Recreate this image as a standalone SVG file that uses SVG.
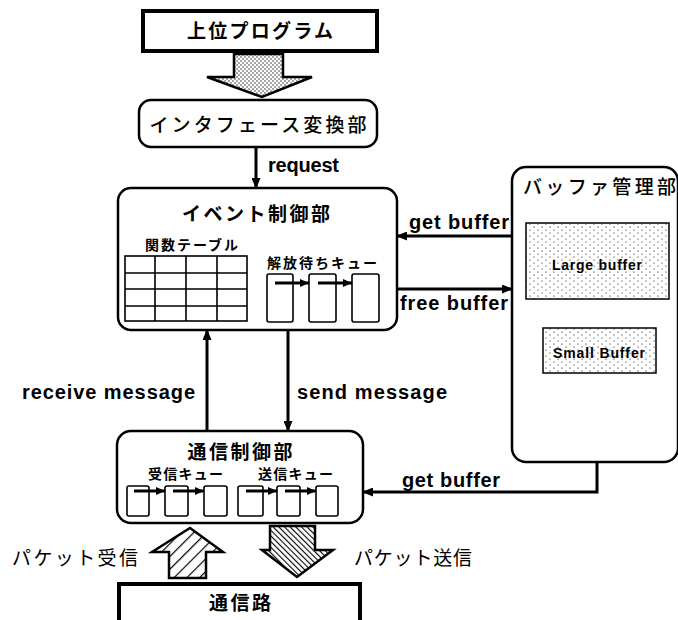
<svg xmlns="http://www.w3.org/2000/svg" width="678" height="620" viewBox="0 0 678 620">
<style>
.box{fill:#fff;stroke:#000;stroke-width:2.5}
.thick{fill:#fff;stroke:#000;stroke-width:4}
.ln{fill:none;stroke:#000;stroke-width:3}
.q{fill:#fff;stroke:#000;stroke-width:1.6}
.en{font-family:"Liberation Sans",Arial,sans-serif;font-weight:bold;font-size:20px;fill:#000}
.jp{font-family:"Noto Sans CJK JP","Noto Sans CJK SC",sans-serif;fill:#000}
.t1{font-size:19px;font-weight:bold}
.t2{font-size:19px;font-weight:500}
.t3{font-size:14px;font-weight:bold}
.sm{font-family:"Liberation Sans",Arial,sans-serif;font-weight:bold;font-size:14px;fill:#000}
</style>
<defs>
<marker id="ah" markerUnits="userSpaceOnUse" markerWidth="11" markerHeight="9" refX="10" refY="4.5" orient="auto">
<path d="M0,0 L11,4.5 L0,9 z" fill="#000"/>
</marker>
<marker id="ahs" markerUnits="userSpaceOnUse" markerWidth="9" markerHeight="8" refX="9" refY="4" orient="auto">
<path d="M0,0 L9,4 L0,8 z" fill="#000"/>
</marker>
<pattern id="stip" width="4" height="4" patternUnits="userSpaceOnUse">
<rect width="4" height="4" fill="#fff"/>
<circle cx="1" cy="1" r="0.65" fill="#000"/>
<circle cx="3" cy="3" r="0.65" fill="#000"/>
</pattern>
<pattern id="dots" width="8" height="6" patternUnits="userSpaceOnUse">
<rect width="8" height="6" fill="#fff"/>
<circle cx="2" cy="2" r="0.6" fill="#000"/>
<circle cx="6" cy="5" r="0.6" fill="#000"/>
</pattern>
<pattern id="hup" width="9" height="9" patternUnits="userSpaceOnUse" patternTransform="rotate(45)">
<rect width="9" height="9" fill="#fff"/>
<line x1="0" y1="0" x2="0" y2="9" stroke="#000" stroke-width="2.4"/>
</pattern>
<pattern id="hdn" width="4" height="4" patternUnits="userSpaceOnUse" patternTransform="rotate(-45)">
<rect width="4" height="4" fill="#fff"/>
<line x1="0" y1="0" x2="0" y2="4" stroke="#000" stroke-width="2.2"/>
</pattern>
</defs>

<g id="upper-program">
<rect class="thick" x="143" y="11" width="234" height="40"/>
<text class="jp t1" x="260" y="38" text-anchor="middle" textLength="146" lengthAdjust="spacing">上位プログラム</text>
</g>

<g id="top-arrow">
<path d="M234,54 H283 V77 H312 L262,97 L207,77 H234 Z" fill="url(#stip)" stroke="#000" stroke-width="2.5" stroke-linejoin="miter"/>
</g>

<g id="interface">
<rect class="box" x="139" y="100" width="238" height="47" rx="12"/>
<text class="jp t2" x="258" y="132" text-anchor="middle" textLength="217" lengthAdjust="spacing">インタフェース変換部</text>
</g>

<g id="event">
<rect class="box" x="118" y="188" width="279" height="142" rx="13"/>
<text class="jp t1" x="256" y="221" text-anchor="middle" textLength="148" lengthAdjust="spacing">イベント制御部</text>
<text class="jp t3" x="145" y="250" textLength="93" lengthAdjust="spacing">関数テーブル</text>
<rect class="q" x="125" y="256" width="122" height="65"/>
<path d="M155,256 V321 M186,256 V321 M217,256 V321 M125,273 H247 M125,289 H247 M125,306 H247" stroke="#000" stroke-width="1.6" fill="none"/>
<text class="jp t3" x="267" y="268" textLength="110" lengthAdjust="spacing">解放待ちキュー</text>
<rect class="q" x="267" y="274" width="26" height="48" rx="2"/>
<rect class="q" x="309" y="274" width="27" height="48" rx="2"/>
<rect class="q" x="352" y="274" width="27" height="48" rx="2"/>
<line class="ln" x1="275" y1="283" x2="309" y2="283" marker-end="url(#ahs)"/>
<line class="ln" x1="318" y1="283" x2="352" y2="283" marker-end="url(#ahs)"/>
</g>

<g id="buffer-manager">
<rect class="box" x="512" y="167" width="166" height="295" rx="14"/>
<text class="jp t2" x="523" y="194" textLength="153" lengthAdjust="spacing">バッファ管理部</text>
<rect x="526" y="223" width="143" height="76" fill="url(#dots)" stroke="#000" stroke-width="1.5"/>
<text class="sm" x="597" y="270" text-anchor="middle" textLength="90" lengthAdjust="spacing">Large buffer</text>
<rect x="543" y="328" width="113" height="45" fill="url(#dots)" stroke="#000" stroke-width="1.5"/>
<text class="sm" x="599" y="358" text-anchor="middle" textLength="92" lengthAdjust="spacing">Small Buffer</text>
</g>

<g id="comm">
<rect class="box" x="117" y="431" width="246" height="92" rx="14"/>
<text class="jp t1" x="240" y="459" text-anchor="middle" textLength="105" lengthAdjust="spacing">通信制御部</text>
<text class="jp t3" x="148" y="479" textLength="75" lengthAdjust="spacing">受信キュー</text>
<text class="jp t3" x="258" y="479" textLength="75" lengthAdjust="spacing">送信キュー</text>
<rect class="q" x="127" y="486" width="22" height="30" rx="2"/>
<rect class="q" x="165" y="486" width="23" height="30" rx="2"/>
<rect class="q" x="204" y="486" width="23" height="30" rx="2"/>
<rect class="q" x="238" y="486" width="25" height="30" rx="2"/>
<rect class="q" x="277" y="486" width="23" height="30" rx="2"/>
<rect class="q" x="316" y="486" width="22" height="30" rx="2"/>
<line class="ln" x1="134" y1="491" x2="165" y2="491" marker-end="url(#ahs)"/>
<line class="ln" x1="173" y1="491" x2="204" y2="491" marker-end="url(#ahs)"/>
<line class="ln" x1="246" y1="491" x2="277" y2="491" marker-end="url(#ahs)"/>
<line class="ln" x1="285" y1="491" x2="316" y2="491" marker-end="url(#ahs)"/>
</g>

<g id="packet-arrows">
<path d="M169,578 V552 H152 L190,528 L223,552 H206 V578 Z" fill="url(#hup)" stroke="#000" stroke-width="2.5"/>
<path d="M270,526 H315 V550 H333 L297,577 L262,550 H270 Z" fill="url(#hdn)" stroke="#000" stroke-width="2.5"/>
<text class="jp" x="12" y="565" textLength="126" lengthAdjust="spacing" style="font-size:19px">パケット受信</text>
<text class="jp" x="354" y="565" textLength="118" lengthAdjust="spacing" style="font-size:19px">パケット送信</text>
</g>

<g id="channel">
<rect class="thick" x="119" y="584" width="241" height="50"/>
<text class="jp t1" x="240" y="610" text-anchor="middle" textLength="62" lengthAdjust="spacing">通信路</text>
</g>

<g id="connectors">
<line class="ln" x1="256" y1="147" x2="256" y2="188" marker-end="url(#ah)"/>
<text class="en" x="268" y="172" textLength="71" lengthAdjust="spacing">request</text>
<line class="ln" x1="512" y1="236" x2="397" y2="236" marker-end="url(#ah)"/>
<text class="en" x="409" y="229" textLength="100" lengthAdjust="spacing">get buffer</text>
<line class="ln" x1="397" y1="289" x2="512" y2="289" marker-end="url(#ah)"/>
<text class="en" x="400" y="310" textLength="108" lengthAdjust="spacing">free buffer</text>
<line class="ln" x1="207" y1="431" x2="207" y2="330" marker-end="url(#ah)"/>
<text class="en" x="22" y="399" textLength="173" lengthAdjust="spacing">receive message</text>
<line class="ln" x1="288" y1="330" x2="288" y2="431" marker-end="url(#ah)"/>
<text class="en" x="297" y="399" textLength="150" lengthAdjust="spacing">send message</text>
<path class="ln" d="M597,462 V492 H363" marker-end="url(#ah)"/>
<text class="en" x="402" y="487" textLength="98" lengthAdjust="spacing">get buffer</text>
</g>
</svg>
